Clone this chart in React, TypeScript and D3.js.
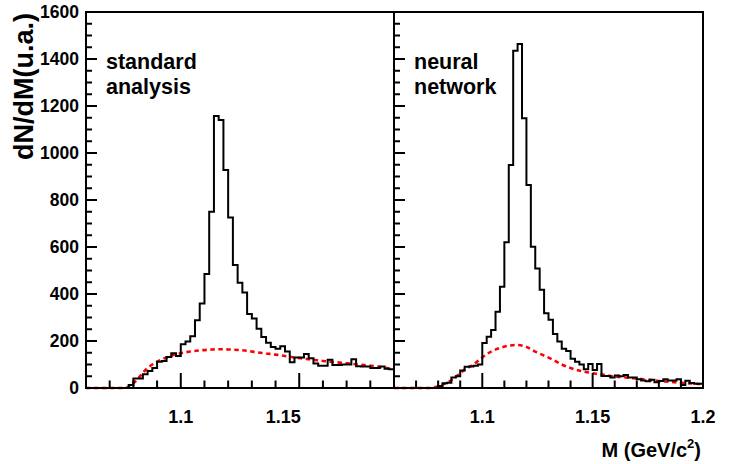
import React from 'react';
import * as d3 from 'd3';

// histogram contents, bins of 0.002 GeV starting at 1.06
const binStart = 1.06;
const binWidth = 0.002;

const standardCounts = [
  0, 0, 0, 0, 0, 0, 0, 0, 0, 13,
  40, 40, 58, 72, 85, 112, 115, 132, 148, 136,
  186, 198, 220, 288, 360, 485, 750, 1157, 1140, 928,
  726, 523, 448, 406, 315, 296, 252, 217, 193, 174,
  167, 178, 155, 110, 130, 130, 145, 127, 104, 95,
  95, 120, 98, 98, 100, 100, 122, 93, 92, 92,
  85, 85, 92, 82, 80,
];

const neuralCounts = [
  0, 0, 0, 0, 0, 0, 0, 0, 0, 0,
  8, 20, 22, 45, 50, 75, 90, 92, 95, 100,
  192, 218, 247, 325, 431, 620, 949, 1435, 1464, 1148,
  864, 601, 509, 418, 318, 290, 230, 198, 167, 157,
  124, 112, 100, 80, 102, 77, 102, 51, 51, 45,
  53, 50, 55, 45, 45, 37, 32, 29, 35, 25,
  30, 37, 32, 32, 37, 13, 31, 21, 18, 18,
];

// background curves (red dashed)
const standardBkgM = [1.06, 1.07, 1.076, 1.078, 1.08, 1.082, 1.084, 1.086, 1.088, 1.09, 1.092, 1.094, 1.096, 1.098, 1.1, 1.104, 1.108, 1.112, 1.116, 1.12, 1.124, 1.128, 1.132, 1.136, 1.14, 1.144, 1.148, 1.152, 1.156, 1.16, 1.165, 1.17, 1.175, 1.18, 1.185, 1.19];
const standardBkgV = [0, 0, 0, 5, 20, 40, 65, 85, 100, 112, 122, 130, 137, 143, 148, 155, 160, 163, 165, 164, 162, 158, 152, 147, 142, 136, 130, 125, 120, 115, 110, 105, 100, 95, 88, 80];

const neuralBkgM = [1.06, 1.07, 1.076, 1.078, 1.08, 1.084, 1.088, 1.092, 1.096, 1.1, 1.104, 1.108, 1.112, 1.116, 1.12, 1.124, 1.128, 1.132, 1.136, 1.14, 1.145, 1.15, 1.155, 1.16, 1.165, 1.17, 1.175, 1.18, 1.185, 1.19, 1.195, 1.2];
const neuralBkgV = [0, 0, 0, 3, 8, 22, 48, 78, 100, 130, 155, 170, 180, 183, 175, 155, 138, 120, 100, 85, 72, 63, 56, 49, 45, 40, 35, 30, 26, 22, 19, 16];

const yTickLabels = ['0', '200', '400', '600', '800', '1000', '1200', '1400', '1600'];
const standardXLabels = ['1.1', '1.15'];
const neuralXLabels = ['1.1', '1.15', '1.2'];

const W = 738;
const H = 464;
const top = 12;
const bottom = 388;
const FONT = 'Liberation Sans, Arial, Helvetica, sans-serif';

const y = d3.scaleLinear().domain([0, 1600]).range([bottom, top]);

type PanelProps = {
  x0: number;
  x1: number;
  xMax: number;
  counts: number[];
  bkgM: number[];
  bkgV: number[];
  xLabels: string[];
  labelShift: number[];
  lines: string[];
};

const Panel = ({ x0, x1, xMax, counts, bkgM, bkgV, xLabels, labelShift, lines }: PanelProps) => {
  const x = d3.scaleLinear().domain([binStart, xMax]).range([x0, x1]);

  const steps: [number, number][] = counts.map((c, i) => [binStart + i * binWidth, c]);
  steps.push([binStart + counts.length * binWidth, counts[counts.length - 1]]);
  const hist = d3.line<[number, number]>()
    .x(d => x(d[0]))
    .y(d => y(d[1]))
    .curve(d3.curveStepAfter)(steps);

  const bkg = d3.line<number>()
    .x((d, i) => x(bkgM[i]))
    .y(d => y(d))
    .curve(d3.curveMonotoneX)(bkgV);

  const yMinor = y.ticks(32).filter(v => v > 0 && v < 1600);
  const xTicks = x.ticks(14).filter(v => v > binStart + 1e-6 && v < xMax - 1e-6);
  const isMajor = (v: number) => Math.abs(v * 20 - Math.round(v * 20)) < 1e-6;

  return (
    <g>
      <path d={bkg || ''} fill="none" stroke="#ff0000" strokeWidth={2.6} strokeDasharray="4.5 3.5" />
      <path d={hist || ''} fill="none" stroke="#000" strokeWidth={2} />
      {yMinor.map(v => (
        <line key={'y' + v} x1={x0} x2={x0 + (v % 200 === 0 ? 11 : 6)} y1={y(v)} y2={y(v)} stroke="#000" strokeWidth={2} />
      ))}
      {xTicks.map(v => (
        <line key={'x' + v} x1={x(v)} x2={x(v)} y1={bottom} y2={bottom - (isMajor(v) ? 15 : 7.5)} stroke="#000" strokeWidth={2} />
      ))}
      {xLabels.map((l, i) => (
        <text key={l} x={x(+l) + labelShift[i]} y={423} textAnchor="middle" fontSize={18} fontWeight="bold" fontFamily={FONT}>{l}</text>
      ))}
      <rect x={x0} y={top} width={x1 - x0} height={bottom - top} fill="none" stroke="#000" strokeWidth={2} />
      {lines.map((t, i) => (
        <text key={t} x={x0 + 20} y={69 + i * 25} fontSize={21.5} fontWeight="bold" fontFamily={FONT}>{t}</text>
      ))}
    </g>
  );
};

export default function App() {
  return (
    <svg width={W} height={H} style={{ position: 'absolute', left: 0, top: 0, background: '#fff' }}>
      <rect width={W} height={H} fill="#fff" />
      <Panel x0={86} x1={394} xMax={1.19} counts={standardCounts} bkgM={standardBkgM} bkgV={standardBkgV}
        xLabels={standardXLabels} labelShift={[0, -16]} lines={['standard', 'analysis']} />
      <Panel x0={394} x1={703} xMax={1.2} counts={neuralCounts} bkgM={neuralBkgM} bkgV={neuralBkgV}
        xLabels={neuralXLabels} labelShift={[0, 0, 0]} lines={['neural', 'network']} />
      {yTickLabels.map(l => (
        <text key={l} x={79} y={y(+l)} dy="0.36em" textAnchor="end" fontSize={17.5} fontWeight="bold" fontFamily={FONT}>{l}</text>
      ))}
      <text transform="translate(33,13) rotate(-90)" textAnchor="end" fontSize={27} fontWeight="bold" fontFamily={FONT}>dN/dM(u.a.)</text>
      <text x={701} y={457} textAnchor="end" fontSize={20} fontWeight="bold" fontFamily={FONT}>
        M (GeV/c<tspan fontSize={13} dy={-9}>2</tspan><tspan dy={9}>)</tspan>
      </text>
    </svg>
  );
}
